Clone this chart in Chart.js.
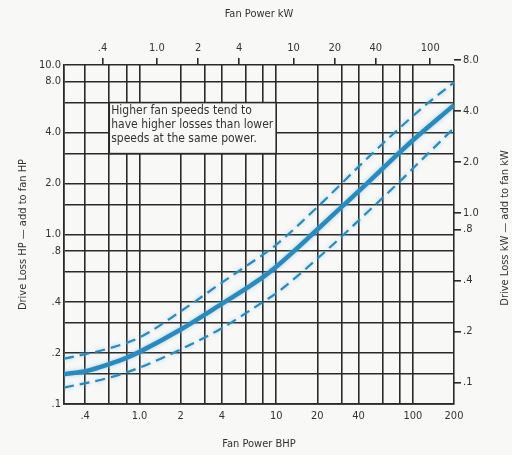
<!DOCTYPE html>
<html>
<head>
<meta charset="utf-8">
<script src="https://cdn.jsdelivr.net/npm/chart.js@4"></script>
<style>
  html, body { margin: 0; padding: 0; background: #f8f8f6; }
  canvas { display: block; }
</style>
</head>
<body>
<canvas id="chart" width="512" height="455"></canvas>
<script>
const KW_PER_HP = 0.746;
const FONT = '"Liberation Sans Narrow", "DejaVu Sans Condensed", sans-serif';
const INK = "#2a2a2a";
const BLUE = "#2a89bd";

// bottom axis: fan power, BHP
const bhpMin = 0.28, bhpMax = 200;
const bhpGrid = [0.4, 0.6, 0.8, 1, 2, 3, 4, 6, 8, 10, 20, 30, 40, 60, 80, 100, 200];
const bhpLabels = { 0.4: ".4", 1: "1.0", 2: "2", 4: "4", 10: "10", 20: "20", 40: "40", 100: "100", 200: "200" };

// left axis: drive loss, HP
const hpMin = 0.1, hpMax = 10;
const hpGrid = [0.1, 0.15, 0.2, 0.3, 0.4, 0.6, 0.8, 1, 1.5, 2, 3, 4, 6, 8, 10];
const hpLabels = { 0.1: ".1", 0.2: ".2", 0.4: ".4", 0.8: ".8", 1: "1.0", 2: "2.0", 4: "4.0", 8: "8.0", 10: "10.0" };

// top / right axes in kW
const kwTopTicks = [0.4, 1, 2, 4, 10, 20, 40, 100];
const kwTopLabels = [".4", "1.0", "2", "4", "10", "20", "40", "100"];
const kwRightTicks = [0.1, 0.2, 0.4, 0.8, 1, 2, 4, 8];
const kwRightLabels = [".1", ".2", ".4", ".8", "1.0", "2.0", "4.0", "8.0"];

// typical loss (solid) and the band for high / low fan speeds (dashed)
const midBhp = [0.28, 0.4, 0.6, 0.8, 1, 2, 4, 6, 8, 10, 20, 30, 45, 80, 100, 200];
const midHp = [0.150, 0.156, 0.172, 0.187, 0.203, 0.275, 0.39, 0.48, 0.56, 0.645, 1.07, 1.45, 1.96, 3.05, 3.6, 5.8];
const highBhp = [0.28, 0.6, 1, 2, 4, 6, 8, 10, 20, 45, 80, 130, 200];
const highHp = [0.185, 0.213, 0.247, 0.352, 0.52, 0.65, 0.76, 0.87, 1.45, 2.75, 4.25, 6.0, 7.9];
const lowBhp = [0.28, 0.6, 1, 2, 4, 8, 10, 20, 30, 45, 80, 100, 200];
const lowHp = [0.125, 0.143, 0.164, 0.21, 0.28, 0.40, 0.45, 0.72, 0.97, 1.32, 2.05, 2.45, 4.25];

const noteLines = ["Higher fan speeds tend to", "have higher losses than lower", "speeds at the same power."];
const noteBox = { x0: 0.6, x1: 10, y0: 6, y1: 3 }; // in BHP / HP

const pts = (xs, ys) => xs.map((x, i) => ({ x, y: ys[i] }));
const setTicks = (vals) => (s) => { s.ticks = vals.map((v) => ({ value: v })); };

const notePlugin = {
  id: "note",
  beforeDatasetsDraw(chart) {
    const { ctx, scales: { x, y } } = chart;
    const l = x.getPixelForValue(noteBox.x0), r = x.getPixelForValue(noteBox.x1);
    const t = y.getPixelForValue(noteBox.y0), b = y.getPixelForValue(noteBox.y1);
    ctx.save();
    ctx.fillStyle = "#f8f8f6";
    ctx.fillRect(l, t, r - l, b - t);
    ctx.strokeStyle = INK;
    ctx.lineWidth = 1.6;
    ctx.strokeRect(l, t, r - l, b - t);
    ctx.fillStyle = "#333";
    ctx.font = `12px ${FONT}`;
    ctx.textBaseline = "alphabetic";
    noteLines.forEach((line, i) => ctx.fillText(line, l + 2, t + 11.5 + i * 14));
    ctx.restore();
  },
};

// soft pale halo round the printed curves
const halo = {
  id: "halo",
  beforeDatasetDraw(chart) {
    const { ctx } = chart;
    ctx.save();
    ctx.shadowColor = "rgba(130, 195, 230, 0.7)";
    ctx.shadowBlur = 4;
  },
  afterDatasetDraw(chart) { chart.ctx.restore(); },
};

// right title reads bottom-to-top, like the left one
const rightTitle = {
  id: "rightTitle",
  afterDraw(chart) {
    const { ctx } = chart;
    ctx.save();
    ctx.translate(505, 228);
    ctx.rotate(-Math.PI / 2);
    ctx.font = `11px ${FONT}`;
    ctx.fillStyle = "#333";
    ctx.textAlign = "center";
    ctx.textBaseline = "middle";
    ctx.fillText("Drive Loss kW — add to fan kW", 0, 0);
    ctx.restore();
  },
};

const tickFont = { family: FONT, size: 11 };
const titleFont = { family: FONT, size: 11 };

new Chart(document.getElementById("chart"), {
  type: "line",
  data: {
    datasets: [
      { data: pts(highBhp, highHp), borderColor: BLUE, borderWidth: 2.2, borderDash: [10, 6] },
      { data: pts(lowBhp, lowHp), borderColor: BLUE, borderWidth: 2.2, borderDash: [10, 6] },
      { data: pts(midBhp, midHp), borderColor: BLUE, borderWidth: 4.5 },
    ],
  },
  options: {
    responsive: false,
    animation: false,
    layout: { padding: 0 },
    elements: { point: { radius: 0 }, line: { cubicInterpolationMode: "monotone", fill: false } },
    plugins: { legend: { display: false }, tooltip: { enabled: false } },
    scales: {
      x: {
        type: "logarithmic", position: "bottom", min: bhpMin, max: bhpMax,
        afterBuildTicks: setTicks(bhpGrid),
        afterFit: (s) => { s.height = 51; },
        ticks: { autoSkip: false, maxRotation: 0, padding: 6, color: "#333", font: tickFont,
          callback: (v) => bhpLabels[v] ?? "" },
        grid: { color: INK, lineWidth: 1.6, drawTicks: false },
        border: { color: INK, width: 1.8 },
        title: { display: true, text: "Fan Power BHP", color: "#333", font: titleFont, padding: { top: 4 } },
      },
      y: {
        type: "logarithmic", position: "left", min: hpMin, max: hpMax,
        afterBuildTicks: setTicks(hpGrid),
        afterFit: (s) => { s.width = 64; },
        ticks: { autoSkip: false, padding: 3, color: "#333", font: tickFont,
          callback: (v) => hpLabels[v] ?? "" },
        grid: { color: INK, lineWidth: 1.6, drawTicks: false },
        border: { color: INK, width: 1.8 },
        title: { display: true, text: "Drive Loss HP — add to fan HP", color: "#333", font: titleFont,
          padding: { top: 17, bottom: 0 } },
      },
      x2: {
        type: "logarithmic", position: "top", min: bhpMin * KW_PER_HP, max: bhpMax * KW_PER_HP,
        afterBuildTicks: setTicks(kwTopTicks),
        afterFit: (s) => { s.height = 65; },
        ticks: { autoSkip: false, maxRotation: 0, padding: 3, color: "#333", font: tickFont,
          callback: (v, i) => kwTopLabels[i] },
        grid: { drawOnChartArea: false, color: INK, lineWidth: 1.6, tickLength: 7 },
        border: { display: false },
        title: { display: true, text: "Fan Power kW", color: "#333", font: titleFont, padding: { top: 8 } },
      },
      y2: {
        type: "logarithmic", position: "right", min: hpMin * KW_PER_HP, max: hpMax * KW_PER_HP,
        afterBuildTicks: setTicks(kwRightTicks),
        afterFit: (s) => { s.width = 58; },
        ticks: { autoSkip: false, padding: 2, color: "#333", font: tickFont,
          callback: (v, i) => kwRightLabels[i] },
        grid: { drawOnChartArea: false, color: INK, lineWidth: 1.6, tickLength: 7 },
        border: { display: false },
      },
    },
  },
  plugins: [notePlugin, halo, rightTitle],
});
</script>
</body>
</html>
